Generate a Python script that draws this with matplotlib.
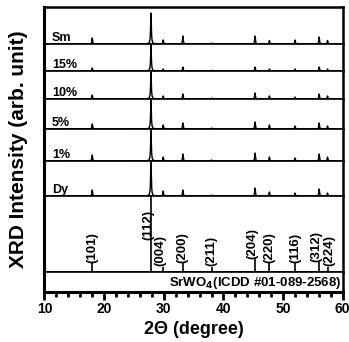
import numpy as np
import matplotlib
matplotlib.use("Agg")
import matplotlib.pyplot as plt
from matplotlib.ticker import MultipleLocator

plt.rcParams['font.family'] = ['Liberation Sans', 'DejaVu Sans']
plt.rcParams['font.weight'] = 'bold'

# ---- data ----
peak_pos = [18.0, 27.85, 29.9, 33.2, 38.0, 45.3, 47.7, 52.0, 56.05, 57.45]
hkl = ['(101)', '(112)', '(004)', '(200)', '(211)', '(204)', '(220)', '(116)', '(312)', '(224)']
ref_int = [12, 100, 7, 12, 7, 17, 12, 12, 13, 7]

sample_names = ['Sm', '15%', '10%', '5%', '1%', 'Dy']
I_Sm = [6, 31, 4, 8, 1, 8, 3.5, 4, 7, 3.5]
I_15 = [3, 26, 2, 4, 0.8, 4, 2, 2, 4, 2]
I_10 = [4, 27, 3, 5, 1, 6, 3, 2, 5, 3]
I_5 = [5, 29, 4, 6, 1, 7, 4, 3, 6, 3]
I_1 = [6, 31, 4, 7, 1, 8, 4, 3, 7, 4]
I_Dy = [6, 34, 5, 6, 1, 8, 4, 3, 7, 3]
sample_int = [I_Sm, I_15, I_10, I_5, I_1, I_Dy]
panel_h = [37, 27, 28, 30, 32, 35]

ref_label = r'SrWO$_4$(ICDD #01-089-2568)'

# label nudges (degrees) so neighbouring labels do not collide
label_shift = {'(112)': -0.45, '(004)': -0.45, '(204)': -0.45, '(312)': -0.55, '(224)': 0.3}

# ---- figure ----
fig = plt.figure(figsize=(3.49, 3.42), dpi=100)
ratios = panel_h + [76, 20]
gs = fig.add_gridspec(len(ratios), 1, height_ratios=ratios, hspace=0,
                      left=0.1275, right=0.982, top=0.9795, bottom=0.146)
axes = [fig.add_subplot(gs[i]) for i in range(len(ratios))]

x = np.linspace(10, 60, 6001)
gamma = 0.07

def spectrum(heights):
    y = np.zeros_like(x)
    for p, h in zip(peak_pos, heights):
        y += h * gamma**2 / ((x - p)**2 + gamma**2)
    return y

for i, ax in enumerate(axes):
    ax.set_xlim(10, 60)
    ax.set_yticks([])
    for s in ax.spines.values():
        s.set_linewidth(1.2)
    ax.spines['left'].set_linewidth(2.2)
    ax.spines['right'].set_linewidth(1.8)
    if i < len(axes) - 1:
        ax.tick_params(axis='x', which='both', bottom=False, labelbottom=False)

axes[0].spines['top'].set_linewidth(1.8)

for ax, name, ints, h in zip(axes[:6], sample_names, sample_int, panel_h):
    ax.set_ylim(0, h)
    ax.plot(x, spectrum(ints), color='black', lw=1.0, clip_on=False)
    ax.text(11.25, 3.5, name, fontsize=9, fontweight='bold', ha='left', va='baseline')

# reference panel
axr = axes[6]
axr.set_ylim(0, 100)
axr.vlines(peak_pos, 0, ref_int, color='black', lw=1.2)
for p, h, lab in zip(peak_pos, ref_int, hkl):
    dx = label_shift.get(lab, 0.0)
    yb = 42 if lab == '(112)' else h + 0.5
    axr.text(p + dx, yb, lab, rotation=90, ha='center', va='bottom',
             fontsize=9.5, fontweight='bold')

# label strip
axl = axes[7]
axl.set_ylim(0, 1)
axl.text(59.8, 0.45, ref_label, ha='right', va='center', fontsize=9.5, fontweight='bold')
axl.spines['bottom'].set_linewidth(2.2)
axl.xaxis.set_major_locator(MultipleLocator(10))
axl.xaxis.set_minor_locator(MultipleLocator(2))
axl.tick_params(axis='x', which='major', direction='out', length=6, width=2, labelsize=10, pad=1.5)
axl.tick_params(axis='x', which='minor', direction='out', length=3.5, width=2)
for t in axl.get_xticklabels():
    t.set_fontweight('bold')
axl.set_xlabel('2Θ (degree)', fontsize=13, fontweight='bold', labelpad=3)

fig.text(0.052, (0.9795 + 0.146) / 2, 'XRD Intensity (arb. unit)', rotation=90,
         ha='center', va='center', fontsize=15, fontweight='bold')

fig.savefig('out.png', dpi=100)
